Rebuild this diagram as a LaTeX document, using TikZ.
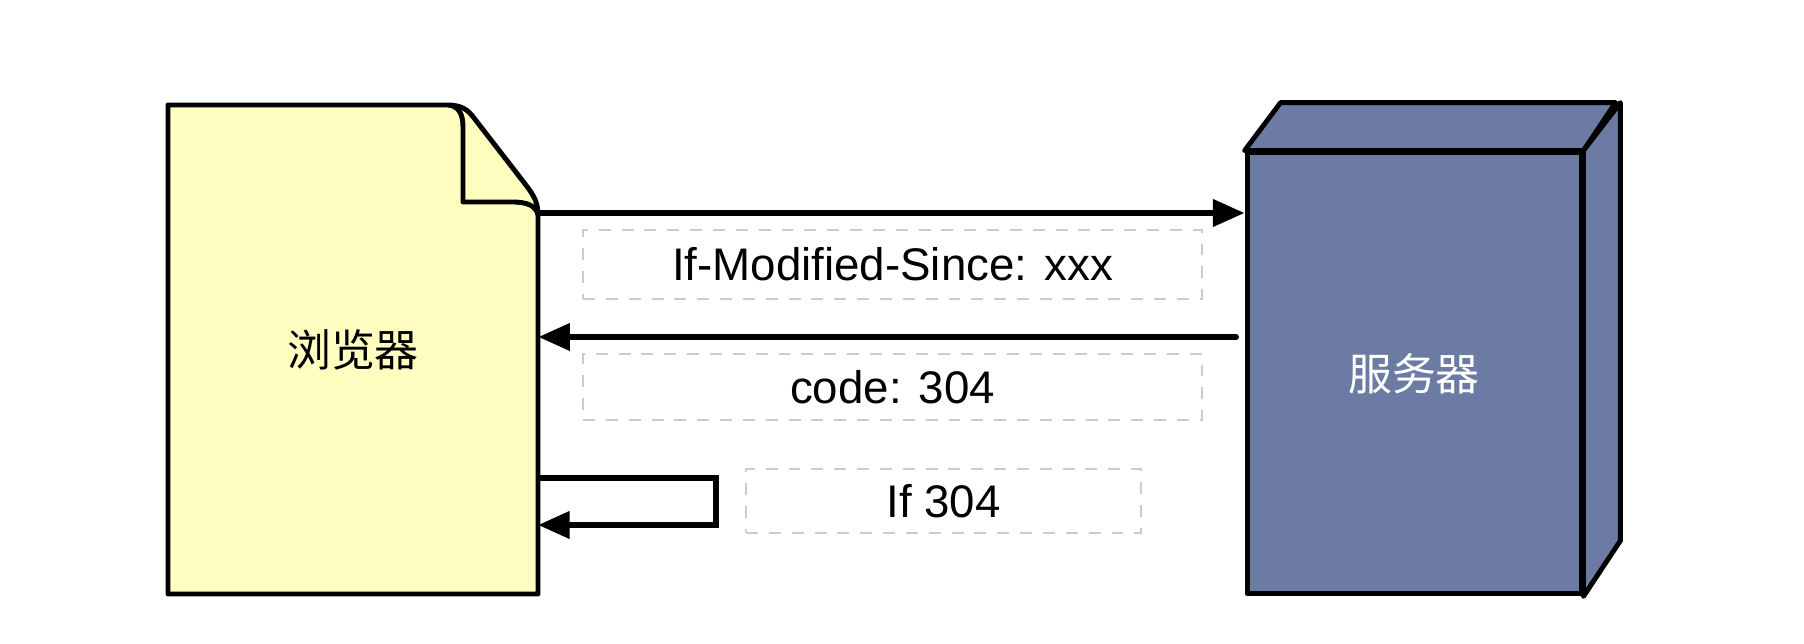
\documentclass[tikz,border=0pt]{standalone}
\usepackage{fontspec}
\setmainfont{Liberation Sans}
\newfontfamily\cjk{Noto Sans CJK SC}
\usepackage{xcolor}
\usepackage{tikz}
\usetikzlibrary{arrows.meta}
\definecolor{docyellow}{HTML}{FFFDC0}
\definecolor{serverblue}{HTML}{6B7BA3}
\definecolor{boxgray}{HTML}{CCCCCC}

\begin{document}
\begin{tikzpicture}[x=0.02cm,y=-0.02cm,
		flow/.style={line width=3.4pt,-{Triangle[length=18pt,width=15pt]}},
		outline/.style={line width=2.8pt,line join=round},
		tagbox/.style={draw=boxgray,line width=1.4pt,dash pattern=on 6.8pt off 6.2pt,inner sep=0pt,font=\fontsize{26}{30}\selectfont},
		cjklabel/.style={font=\cjk\fontsize{25}{30}\selectfont}]
		\useasboundingbox (0,0) rectangle (1804,644);

		\draw[outline,fill=docyellow] (168,105) -- (447,105) .. controls (462,105) and (468,110) .. (474,118) -- (522,180) .. controls (532,193) and (538,200) .. (538,215) -- (538,594) -- (168,594) -- cycle;
		\draw[outline] (450,105) .. controls (460,108) and (463,115) .. (463,128) -- (463,202) -- (512,202) .. controls (528,202) and (536,206) .. (538,215);
		\node[cjklabel,minimum width=7.4cm,minimum height=9.78cm,inner sep=0pt] (browser) at (353,349.5) {浏览器};

		\node[outline,draw,fill=serverblue,text=white,cjklabel,minimum width=6.68cm,minimum height=8.82cm,inner sep=0pt] (server) at (1414,373.5) {服务器};
		\draw[outline,fill=serverblue] (server.north west) -- ++(36,-48) -- ++(335,0) -- (server.north east) -- cycle;
		\draw[outline,fill=serverblue] (server.north east) -- ++(37,-48) -- ++(0,438) -- (server.south east) -- cycle;

		\coordinate (req) at (538,213);
		\draw[flow] (req) -- (req -| server.west);
		\node[tagbox,minimum width=12.38cm,minimum height=1.38cm] (since) at (892.5,264.5) {If-Modified-Since: xxx};

		\coordinate (resp) at (1236,337);
		\draw[flow,line cap=round] (resp) -- (resp -| browser.east);
		\node[tagbox,minimum width=12.38cm,minimum height=1.32cm] (code) at (892.5,387) {code: 304};

		\coordinate (self) at (538,478);
		\draw[flow] (self) -- ++(178,0) -- ++(0,47) -- ++(-178,0);
		\node[tagbox,minimum width=7.9cm,minimum height=1.28cm] (hit) at (943.5,501) {If 304};
	\end{tikzpicture}
\end{document}
